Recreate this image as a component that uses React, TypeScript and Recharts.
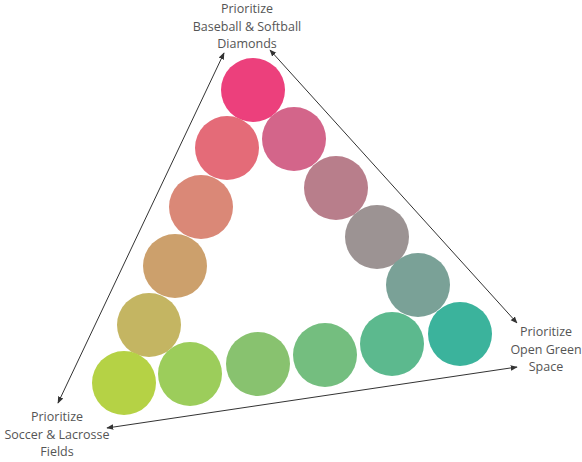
import React from 'react';
import { ScatterChart, Scatter, XAxis, YAxis, ReferenceLine, Customized } from 'recharts';

// circle positions (chart units = pixels of the 582x462 canvas) and colours
const circleX = [253, 294, 227, 336, 201, 377, 175, 418, 149, 124, 190, 258, 325, 392, 460];
const circleY = [90, 139, 148, 188, 207, 237, 266, 285, 325, 383, 374, 364, 355, 344, 334];
const circleColors = [
  '#ec407c', '#d3658a', '#e46b78', '#b87e8b', '#da8877', '#9c9393', '#cca06c',
  '#7aa197', '#c4b562', '#b5d245', '#9ccd5b', '#88c26f', '#74be7f', '#5cb98e', '#3bb39c',
];

// corner labels
const labelX = [247, 546, 57];
const labelY = [8, 331, 416];
const labelLines = [
  ['Prioritize', 'Baseball & Softball', 'Diamonds'],
  ['Prioritize', 'Open Green', 'Space'],
  ['Prioritize', 'Soccer & Lacrosse', 'Fields'],
];

// arrows: start and end points
const arrowX1 = [224, 270, 107];
const arrowY1 = [53, 50, 428];
const arrowX2 = [58, 517, 517];
const arrowY2 = [403, 323, 367];

const circles = circleX.map((x, i) => ({ x, y: circleY[i], color: circleColors[i] }));
const labels = labelX.map((x, i) => ({ x, y: labelY[i], lines: labelLines[i] }));

const CircleShape = (props: any) => (
  <circle cx={props.cx} cy={props.cy} r={32} fill={props.payload.color} />
);

const LabelShape = (props: any) => (
  <text
    x={props.cx}
    y={props.cy}
    textAnchor="middle"
    dominantBaseline="central"
    fontFamily="'Open Sans', sans-serif"
    fontSize={12.5}
    fill="#555"
  >
    {props.payload.lines.map((l: string, i: number) => (
      <tspan key={i} x={props.cx} dy={i === 0 ? 0 : 17.5}>
        {l}
      </tspan>
    ))}
  </text>
);

const Defs = () => (
  <defs>
    <marker
      id="arrowHead"
      viewBox="0 0 10 10"
      refX="9"
      refY="5"
      markerWidth="7"
      markerHeight="7"
      orient="auto-start-reverse"
      markerUnits="userSpaceOnUse"
    >
      <path d="M0,1 L10,5 L0,9 Z" fill="#333" />
    </marker>
  </defs>
);

export default function App() {
  return (
    <div style={{ position: 'absolute', left: 0, top: 0, background: '#fff' }}>
      <ScatterChart width={582} height={462} margin={{ top: 0, right: 0, bottom: 0, left: 0 }}>
        <XAxis type="number" dataKey="x" domain={[0, 582]} hide />
        <YAxis type="number" dataKey="y" domain={[0, 462]} reversed hide />
        <Customized component={Defs} />
        {arrowX1.map((x1, i) => (
          <ReferenceLine
            key={i}
            segment={[
              { x: x1, y: arrowY1[i] },
              { x: arrowX2[i], y: arrowY2[i] },
            ]}
            stroke="#333"
            strokeWidth={1}
            markerStart="url(#arrowHead)"
            markerEnd="url(#arrowHead)"
            ifOverflow="visible"
          />
        ))}
        <Scatter data={circles} shape={CircleShape} isAnimationActive={false} />
        <Scatter data={labels} shape={LabelShape} isAnimationActive={false} />
      </ScatterChart>
    </div>
  );
}
